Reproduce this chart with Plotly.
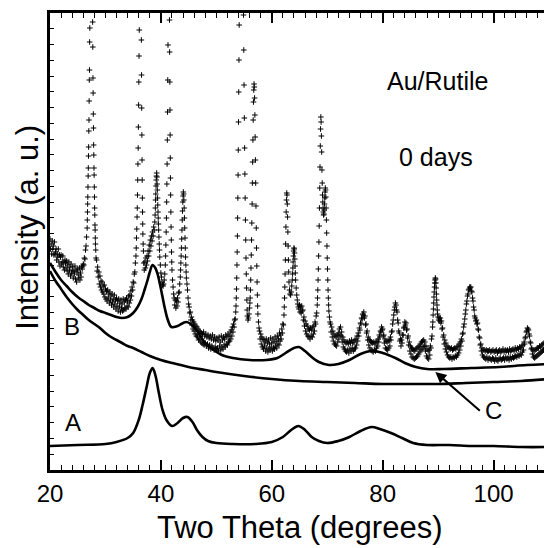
import plotly.graph_objects as go

# XRD scan of Au/Rutile (0 days); intensity in arbitrary units, axis spans 0..457
scan_20_28 = [
    (20.0, 231), (20.1, 221), (20.2, 226), (20.3, 216), (20.4, 229), (20.5, 221), (20.6, 224), (20.7, 215),
    (20.8, 228), (20.9, 216), (21.0, 218), (21.1, 221), (21.2, 210), (21.3, 216), (21.4, 213), (21.5, 221),
    (21.6, 208), (21.7, 215), (21.8, 204), (21.9, 213), (22.0, 215), (22.1, 206), (22.2, 208), (22.3, 214),
    (22.4, 203), (22.5, 208), (22.6, 200), (22.7, 210), (22.8, 207), (22.9, 202), (23.0, 209), (23.1, 199),
    (23.2, 205), (23.3, 196), (23.4, 208), (23.5, 200), (23.6, 203), (23.7, 194), (23.8, 206), (23.9, 197),
    (24.0, 199), (24.1, 203), (24.2, 192), (24.3, 199), (24.4, 196), (24.5, 204), (24.6, 191), (24.7, 200),
    (24.8, 188), (24.9, 198), (25.0, 201), (25.1, 192), (25.2, 195), (25.3, 202), (25.4, 190), (25.5, 197),
    (25.6, 193), (25.7, 203), (25.8, 201), (25.9, 204), (26.0, 206), (26.1, 205), (26.2, 212), (26.3, 211),
    (26.4, 220), (26.5, 224), (26.6, 233), (26.7, 242), (26.73, 250), (26.76, 258), (26.79, 266), (26.82, 273),
    (26.85, 283), (26.88, 294), (26.91, 302), (26.94, 314), (26.97, 323), (27.0, 339), (27.03, 350),
    (27.06, 369), (27.09, 390), (27.12, 400), (27.15, 428), (27.18, 442), (27.21, 470), (27.24, 510),
    (27.3, 560), (27.4, 600), (27.5, 590), (27.6, 540), (27.66, 490), (27.69, 448), (27.72, 423), (27.75, 392),
    (27.78, 377), (27.81, 356), (27.84, 342), (27.87, 325), (27.9, 315), (27.93, 302), (27.96, 295),
    (27.99, 283), (28.02, 273), (28.05, 262), (28.08, 255), (28.11, 245), (28.14, 240), (28.17, 232),
    (28.2, 226), (28.25, 220), (28.3, 212),
]

scan_28_45 = [
    (28.4, 210), (28.5, 199), (28.6, 203), (28.7, 193), (28.8, 198), (28.9, 186), (29.0, 194), (29.1, 183),
    (29.2, 189), (29.3, 180), (29.4, 188), (29.5, 178), (29.6, 184), (29.7, 176), (29.8, 185), (29.9, 173),
    (30.0, 181), (30.1, 171), (30.2, 179), (30.3, 169), (30.4, 180), (30.5, 172), (30.6, 176), (30.7, 167),
    (30.8, 178), (30.9, 170), (31.0, 174), (31.1, 165), (31.2, 176), (31.3, 168), (31.4, 171), (31.5, 163),
    (31.6, 175), (31.7, 166), (31.8, 170), (31.9, 161), (32.0, 172), (32.1, 164), (32.2, 169), (32.3, 159),
    (32.4, 171), (32.5, 163), (32.6, 167), (32.7, 158), (32.8, 170), (32.9, 162), (33.0, 166), (33.1, 159),
    (33.2, 171), (33.3, 160), (33.4, 168), (33.5, 162), (33.6, 170), (33.7, 161), (33.8, 172), (33.9, 164),
    (34.0, 169), (34.1, 163), (34.2, 174), (34.3, 167), (34.4, 175), (34.5, 170), (34.6, 179), (34.7, 174),
    (34.8, 183), (34.9, 180), (35.0, 188), (35.1, 187), (35.2, 196), (35.3, 198), (35.4, 207), (35.5, 214),
    (35.55, 222), (35.6, 232), (35.65, 241), (35.7, 253), (35.74, 262), (35.78, 275), (35.82, 290),
    (35.86, 306), (35.9, 322), (35.94, 343), (35.98, 365), (36.02, 388), (36.06, 414), (36.1, 440),
    (36.14, 470), (36.2, 520), (36.3, 560), (36.4, 520), (36.45, 470), (36.48, 430), (36.51, 395),
    (36.54, 362), (36.57, 335), (36.6, 310), (36.63, 290), (36.66, 272), (36.69, 258), (36.72, 246),
    (36.75, 236), (36.8, 226), (36.85, 219), (36.9, 207), (37.0, 200), (37.1, 208), (37.2, 202), (37.3, 212),
    (37.4, 205), (37.5, 214), (37.6, 209), (37.7, 219), (37.8, 214), (37.9, 225), (38.0, 219), (38.1, 230),
    (38.2, 224), (38.3, 234), (38.4, 229), (38.5, 238), (38.6, 234), (38.7, 243), (38.8, 240), (38.9, 248),
    (38.95, 255), (39.0, 262), (39.04, 270), (39.08, 276), (39.12, 284), (39.16, 290), (39.2, 294),
    (39.24, 297), (39.28, 293), (39.32, 286), (39.36, 280), (39.4, 272), (39.44, 265), (39.48, 258),
    (39.52, 252), (39.56, 246), (39.6, 240), (39.65, 233), (39.7, 226), (39.75, 220), (39.8, 213),
    (39.9, 205), (40.0, 197), (40.1, 193), (40.2, 188), (40.3, 185), (40.4, 184), (40.5, 186), (40.6, 190),
    (40.7, 196), (40.8, 205), (40.85, 214), (40.9, 225), (40.95, 238), (41.0, 252), (41.04, 268),
    (41.08, 286), (41.12, 306), (41.16, 330), (41.2, 358), (41.24, 390), (41.28, 425), (41.32, 465),
    (41.4, 520), (41.5, 490), (41.55, 450), (41.58, 418), (41.61, 388), (41.64, 360), (41.67, 335),
    (41.7, 312), (41.73, 292), (41.76, 275), (41.8, 258), (41.84, 243), (41.88, 230), (41.92, 218),
    (41.96, 208), (42.0, 200), (42.1, 190), (42.2, 183), (42.3, 176), (42.4, 172), (42.5, 165), (42.6, 170),
    (42.7, 162), (42.8, 169), (42.9, 164), (43.0, 172), (43.1, 168), (43.2, 177), (43.3, 178), (43.4, 186),
    (43.5, 193), (43.55, 200), (43.6, 207), (43.65, 214), (43.7, 222), (43.75, 231), (43.8, 240),
    (43.85, 250), (43.9, 259), (43.95, 268), (44.0, 274), (44.05, 278), (44.1, 276), (44.15, 270),
    (44.2, 262), (44.25, 252), (44.3, 242), (44.35, 232), (44.4, 222), (44.45, 213), (44.5, 205),
    (44.55, 198), (44.6, 192), (44.7, 186), (44.8, 180), (44.9, 172),
]

scan_45_58 = [
    (45.0, 166), (45.1, 163), (45.2, 157), (45.3, 158), (45.4, 150), (45.5, 153), (45.6, 145), (45.7, 150),
    (45.8, 141), (45.9, 148), (46.0, 139), (46.1, 146), (46.2, 136), (46.3, 144), (46.4, 134), (46.5, 143),
    (46.6, 133), (46.7, 141), (46.8, 130), (46.9, 139), (47.0, 131), (47.1, 138), (47.2, 128), (47.3, 137),
    (47.4, 127), (47.5, 136), (47.6, 126), (47.7, 138), (47.8, 125), (47.9, 134), (48.0, 127), (48.1, 136),
    (48.2, 124), (48.3, 133), (48.4, 126), (48.5, 135), (48.6, 122), (48.7, 132), (48.8, 125), (48.9, 134),
    (49.0, 121), (49.1, 131), (49.2, 124), (49.3, 135), (49.4, 122), (49.5, 130), (49.6, 120), (49.7, 133),
    (49.8, 123), (49.9, 129), (50.0, 121), (50.1, 132), (50.2, 122), (50.3, 130), (50.4, 119), (50.5, 133),
    (50.6, 124), (50.7, 128), (50.8, 120), (50.9, 134), (51.0, 123), (51.1, 130), (51.2, 121), (51.3, 133),
    (51.4, 125), (51.5, 131), (51.6, 123), (51.7, 135), (51.8, 126), (51.9, 133), (52.0, 125), (52.1, 136),
    (52.2, 128), (52.3, 134), (52.4, 129), (52.5, 138), (52.6, 131), (52.7, 140), (52.8, 134), (52.9, 143),
    (53.0, 138), (53.1, 146), (53.2, 143), (53.3, 150), (53.4, 151), (53.5, 158), (53.55, 164), (53.6, 172),
    (53.64, 181), (53.68, 192), (53.72, 205), (53.76, 218), (53.8, 234), (53.84, 252), (53.88, 272),
    (53.92, 295), (53.96, 320), (54.0, 348), (54.04, 378), (54.08, 410), (54.12, 445), (54.2, 500),
    (54.4, 560), (54.6, 540), (54.8, 490), (54.9, 455), (54.95, 420), (55.0, 385), (55.05, 352),
    (55.1, 322), (55.15, 296), (55.2, 272), (55.25, 250), (55.3, 230), (55.35, 212), (55.4, 196),
    (55.45, 182), (55.5, 170), (55.55, 160), (55.6, 154), (55.7, 150), (55.8, 152), (55.9, 156), (56.0, 162),
    (56.05, 167), (56.1, 172), (56.15, 180), (56.2, 190), (56.25, 202), (56.3, 215), (56.35, 230),
    (56.4, 247), (56.45, 266), (56.5, 287), (56.55, 308), (56.6, 330), (56.65, 350), (56.7, 368),
    (56.75, 380), (56.8, 386), (56.85, 383), (56.9, 372), (56.95, 355), (57.0, 333), (57.05, 310),
    (57.1, 287), (57.15, 264), (57.2, 242), (57.25, 222), (57.3, 204), (57.35, 188), (57.4, 175),
    (57.45, 164), (57.5, 156), (57.6, 148), (57.7, 142),
]

scan_58_71 = [
    (57.8, 139), (57.9, 131), (58.0, 136), (58.1, 126), (58.2, 133), (58.3, 123), (58.4, 131), (58.5, 121),
    (58.6, 130), (58.7, 124), (58.8, 128), (58.9, 119), (59.0, 131), (59.1, 122), (59.2, 127), (59.3, 118),
    (59.4, 130), (59.5, 121), (59.6, 126), (59.7, 120), (59.8, 132), (59.9, 123), (60.0, 127), (60.1, 119),
    (60.2, 131), (60.3, 122), (60.4, 128), (60.5, 121), (60.6, 133), (60.7, 124), (60.8, 129), (60.9, 122),
    (61.0, 134), (61.1, 126), (61.2, 131), (61.3, 125), (61.4, 137), (61.5, 129), (61.6, 135), (61.7, 131),
    (61.8, 141), (61.9, 137), (62.0, 146), (62.1, 145), (62.2, 155), (62.25, 163), (62.3, 172), (62.35, 183),
    (62.4, 196), (62.45, 210), (62.5, 226), (62.55, 243), (62.6, 258), (62.65, 270), (62.7, 277),
    (62.75, 275), (62.8, 266), (62.85, 253), (62.9, 238), (62.95, 224), (63.0, 210), (63.05, 198),
    (63.1, 188), (63.2, 180), (63.3, 176), (63.4, 175), (63.5, 178), (63.6, 184), (63.7, 190), (63.75, 196),
    (63.8, 202), (63.85, 208), (63.9, 214), (63.95, 219), (64.0, 222), (64.05, 221), (64.1, 217),
    (64.15, 211), (64.2, 204), (64.25, 197), (64.3, 190), (64.4, 182), (64.5, 175), (64.6, 170), (64.7, 166),
    (64.8, 163), (64.9, 161), (65.0, 165), (65.1, 158), (65.2, 163), (65.3, 157), (65.4, 164), (65.5, 159),
    (65.6, 160), (65.7, 150), (65.8, 153), (65.9, 144), (66.0, 149), (66.1, 139), (66.2, 146), (66.3, 136),
    (66.4, 144), (66.5, 134), (66.6, 141), (66.7, 133), (66.8, 140), (66.9, 131), (67.0, 142), (67.1, 134),
    (67.2, 140), (67.3, 133), (67.4, 143), (67.5, 136), (67.6, 144), (67.7, 139), (67.8, 148), (67.9, 146),
    (68.0, 154), (68.1, 157), (68.2, 165), (68.25, 172), (68.3, 180), (68.35, 190), (68.4, 201), (68.45, 214),
    (68.5, 228), (68.55, 244), (68.6, 262), (68.65, 282), (68.7, 303), (68.75, 324), (68.8, 341),
    (68.85, 353), (68.9, 348), (68.95, 334), (69.0, 318), (69.05, 300), (69.1, 287), (69.15, 275),
    (69.2, 268), (69.25, 262), (69.3, 258), (69.35, 255), (69.4, 256), (69.45, 260), (69.5, 266),
    (69.55, 272), (69.6, 278), (69.65, 282), (69.7, 280), (69.75, 273), (69.8, 262), (69.85, 250),
    (69.9, 237), (69.95, 224), (70.0, 212), (70.05, 201), (70.1, 190), (70.15, 180), (70.2, 172),
    (70.25, 165), (70.3, 159), (70.4, 153), (70.5, 148),
]

scan_71_89 = [
    (70.6, 146), (70.7, 138), (70.8, 143), (70.9, 133), (71.0, 139), (71.1, 129), (71.2, 136), (71.3, 126),
    (71.4, 134), (71.5, 125), (71.6, 133), (71.7, 124), (71.8, 135), (71.9, 128), (72.0, 137), (72.1, 131),
    (72.2, 141), (72.3, 135), (72.4, 143), (72.5, 134), (72.6, 138), (72.7, 128), (72.8, 133), (72.9, 123),
    (73.0, 130), (73.1, 121), (73.2, 128), (73.3, 119), (73.4, 127), (73.5, 118), (73.6, 128), (73.7, 120),
    (73.8, 126), (73.9, 117), (74.0, 129), (74.1, 121), (74.2, 127), (74.3, 119), (74.4, 130), (74.5, 122),
    (74.6, 127), (74.7, 119), (74.8, 128), (74.9, 121), (75.0, 130), (75.1, 122), (75.2, 131), (75.3, 125),
    (75.4, 134), (75.5, 129), (75.6, 137), (75.7, 134), (75.8, 142), (75.9, 140), (76.0, 147), (76.1, 146),
    (76.2, 152), (76.3, 151), (76.4, 156), (76.5, 155), (76.6, 158), (76.7, 152), (76.8, 154), (76.9, 145),
    (77.0, 146), (77.1, 137), (77.2, 139), (77.3, 130), (77.4, 133), (77.5, 125), (77.6, 130), (77.7, 122),
    (77.8, 129), (77.9, 120), (78.0, 128), (78.1, 119), (78.2, 127), (78.3, 118), (78.4, 128), (78.5, 120),
    (78.6, 126), (78.7, 119), (78.8, 128), (78.9, 122), (79.0, 129), (79.1, 124), (79.2, 131), (79.3, 128),
    (79.4, 135), (79.5, 133), (79.6, 139), (79.7, 138), (79.8, 143), (79.9, 140), (80.0, 141), (80.1, 134),
    (80.2, 135), (80.3, 127), (80.4, 131), (80.5, 122), (80.6, 129), (80.7, 121), (80.8, 128), (80.9, 120),
    (81.0, 129), (81.1, 122), (81.2, 130), (81.3, 124), (81.4, 133), (81.5, 130), (81.6, 138), (81.7, 139),
    (81.8, 146), (81.9, 150), (82.0, 155), (82.1, 160), (82.2, 163), (82.3, 167), (82.4, 165), (82.5, 160),
    (82.6, 158), (82.7, 150), (82.8, 147), (82.9, 139), (83.0, 137), (83.1, 129), (83.2, 131), (83.3, 124),
    (83.4, 130), (83.5, 127), (83.6, 135), (83.7, 135), (83.8, 142), (83.9, 143), (84.0, 148), (84.1, 145),
    (84.2, 147), (84.3, 140), (84.4, 141), (84.5, 132), (84.6, 134), (84.7, 125), (84.8, 128), (84.9, 119),
    (85.0, 124), (85.1, 116), (85.2, 122), (85.3, 113), (85.4, 121), (85.5, 112), (85.6, 120), (85.7, 111),
    (85.8, 119), (85.9, 112), (86.0, 121), (86.1, 113), (86.2, 122), (86.3, 114), (86.4, 123), (86.5, 116),
    (86.6, 124), (86.7, 118), (86.8, 126), (86.9, 120), (87.0, 128), (87.1, 121), (87.2, 129), (87.3, 123),
    (87.4, 130), (87.5, 124), (87.6, 128), (87.7, 119), (87.8, 124), (87.9, 114), (88.0, 121), (88.1, 112),
    (88.2, 119), (88.3, 111), (88.4, 120), (88.5, 115), (88.6, 124), (88.7, 122), (88.8, 131), (88.9, 134),
    (89.0, 143),
]

scan_89_110 = [
    (89.05, 148), (89.1, 155), (89.15, 161), (89.2, 167), (89.25, 173), (89.3, 178), (89.35, 183),
    (89.4, 187), (89.45, 190), (89.5, 192), (89.55, 191), (89.6, 187), (89.65, 182), (89.7, 176),
    (89.75, 170), (89.8, 165), (89.85, 160), (89.9, 156), (90.0, 153), (90.1, 150), (90.2, 152), (90.3, 149),
    (90.4, 152), (90.5, 147), (90.6, 149), (90.7, 141), (90.8, 142), (90.9, 133), (91.0, 135), (91.1, 126),
    (91.2, 130), (91.3, 121), (91.4, 127), (91.5, 118), (91.6, 124), (91.7, 115), (91.8, 123), (91.9, 113),
    (92.0, 122), (92.1, 112), (92.2, 121), (92.3, 113), (92.4, 122), (92.5, 111), (92.6, 120), (92.7, 113),
    (92.8, 121), (92.9, 112), (93.0, 122), (93.1, 114), (93.2, 121), (93.3, 113), (93.4, 123), (93.5, 115),
    (93.6, 124), (93.7, 117), (93.8, 126), (93.9, 120), (94.0, 128), (94.1, 124), (94.2, 131), (94.3, 129),
    (94.4, 136), (94.5, 137), (94.6, 143), (94.7, 146), (94.8, 151), (94.9, 156), (95.0, 160), (95.1, 166),
    (95.2, 169), (95.3, 174), (95.4, 176), (95.5, 180), (95.6, 181), (95.7, 183), (95.8, 182), (95.9, 183),
    (96.0, 179), (96.1, 178), (96.2, 172), (96.3, 169), (96.4, 163), (96.5, 160), (96.6, 154), (96.7, 152),
    (96.8, 149), (96.9, 150), (97.0, 146), (97.1, 147), (97.2, 141), (97.3, 140), (97.4, 133), (97.5, 132),
    (97.6, 125), (97.7, 126), (97.8, 119), (97.9, 122), (98.0, 115), (98.1, 120), (98.2, 113), (98.3, 120),
    (98.4, 112), (98.5, 119), (98.6, 111), (98.7, 120), (98.8, 113), (98.9, 119), (99.0, 110), (99.1, 119),
    (99.2, 112), (99.3, 120), (99.4, 111), (99.5, 118), (99.6, 110), (99.7, 119), (99.8, 112), (99.9, 120),
    (100.0, 111), (100.1, 118), (100.2, 109), (100.3, 119), (100.4, 112), (100.5, 120), (100.6, 110),
    (100.7, 117), (100.8, 109), (100.9, 119), (101.0, 111), (101.1, 120), (101.2, 112), (101.3, 118),
    (101.4, 110), (101.5, 119), (101.6, 111), (101.7, 121), (101.8, 112), (101.9, 118), (102.0, 110),
    (102.1, 120), (102.2, 113), (102.3, 119), (102.4, 111), (102.5, 120), (102.6, 112), (102.7, 118),
    (102.8, 110), (102.9, 121), (103.0, 113), (103.1, 119), (103.2, 111), (103.3, 120), (103.4, 113),
    (103.5, 121), (103.6, 112), (103.7, 119), (103.8, 113), (103.9, 122), (104.0, 114), (104.1, 120),
    (104.2, 113), (104.3, 122), (104.4, 115), (104.5, 121), (104.6, 114), (104.7, 123), (104.8, 116),
    (104.9, 122), (105.0, 115), (105.1, 124), (105.2, 118), (105.3, 125), (105.4, 120), (105.5, 128),
    (105.6, 126), (105.7, 132), (105.8, 133), (105.9, 138), (106.0, 139), (106.1, 142), (106.2, 141),
    (106.3, 140), (106.4, 136), (106.5, 134), (106.6, 128), (106.7, 127), (106.8, 121), (106.9, 122),
    (107.0, 116), (107.1, 120), (107.2, 113), (107.3, 119), (107.4, 112), (107.5, 120), (107.6, 113),
    (107.7, 121), (107.8, 114), (107.9, 122), (108.0, 115), (108.1, 122), (108.2, 116), (108.3, 124),
    (108.4, 117), (108.5, 123), (108.6, 118), (108.7, 125), (108.8, 119), (108.9, 126), (109.0, 120),
    (109.1, 127), (109.2, 121), (109.3, 126), (109.4, 122), (109.5, 128), (109.6, 123), (109.7, 128),
    (109.8, 124), (109.9, 129), (110.0, 125),
]

# curve A: Au contribution
au_x = [20, 25, 30, 32, 34, 35, 36, 36.7, 37.5, 38.0, 38.5, 39.0, 39.6, 40.3, 41, 42, 43, 44, 44.8,
        45.7, 46.5, 47.5, 48.5, 50, 53, 57, 60, 62, 63.5, 64.8, 66, 67.2, 68.5, 70, 72, 74, 76, 78,
        79.5, 81.5, 83.5, 85.5, 88, 92, 96, 100, 105, 110]
au_y = [24, 25, 26, 28, 32, 37, 50, 65, 85, 97, 102, 95, 78, 60, 50, 44, 47, 52, 53,
        48, 40, 33, 29, 27, 26, 26, 28, 33, 40, 44, 40, 33, 29, 27, 29, 33, 39, 43,
        41, 37, 32, 27, 25, 25, 24, 24, 23, 23]

# curve B: total fit
fit_x = [20, 21, 22, 23, 24, 25, 26, 27, 28, 29, 30, 31, 32, 33, 34, 35, 35.8, 36.5, 37.1, 37.6,
         38.0, 38.5, 39.0, 39.4, 39.9, 40.3, 40.7, 41.2, 41.9, 43, 44.6, 46, 47, 48, 49.3, 51, 53,
         56, 59, 61, 62.5, 64, 64.9, 66, 67.2, 68.5, 70.3, 72, 74, 76, 78, 80, 82.3, 84, 86, 88,
         91, 96, 101, 106, 110]
fit_y = [207, 198, 190, 184, 178, 173, 169, 165, 162, 159, 157, 155, 153, 152, 153, 157, 163, 171, 181, 190,
         198, 205, 202, 196, 184, 173, 162, 151, 143, 144, 148, 143, 135, 127, 121, 115, 112,
         110, 110, 112, 117, 122, 123, 119, 113, 108, 105, 106, 110, 116, 119, 117, 112, 107, 103, 101,
         101, 102, 103, 105, 106]

# curve C: background
bkg_x = [20, 21, 22, 23, 24, 25, 26, 27, 28, 29, 30, 31, 32, 33, 34, 35, 36.5, 38, 40, 42, 45, 48,
         50, 55, 60, 65, 70, 75, 80, 85, 90, 95, 100, 105, 110]
bkg_y = [199, 189, 181, 173, 166, 160, 155, 150, 146, 142, 137, 133, 130, 127, 124, 122, 118, 114, 110, 107, 103, 100,
         98, 94, 91, 89, 88, 87, 86, 86, 86, 87, 88, 89, 91]

scan = scan_20_28 + scan_28_45 + scan_45_58 + scan_58_71 + scan_71_89 + scan_89_110
two_theta = [p[0] for p in scan]
intensity = [p[1] for p in scan]

FONT = "Liberation Sans, Arial, sans-serif"

fig = go.Figure()
fig.add_trace(go.Scatter(
    x=two_theta, y=intensity, mode="markers",
    marker=dict(symbol="cross-thin", size=4, color="black",
                line=dict(width=1, color="black")),
))
for xs, ys in [(fit_x, fit_y), (bkg_x, bkg_y), (au_x, au_y)]:
    fig.add_trace(go.Scatter(
        x=xs, y=ys, mode="lines",
        line=dict(color="black", width=2.6, shape="spline", smoothing=1.0),
    ))

fig.update_xaxes(
    range=[20, 110], tick0=20, dtick=20,
    ticks="inside", ticklen=10, tickwidth=1.5, tickcolor="black",
    minor=dict(dtick=2, ticks="inside", ticklen=5, tickwidth=1, tickcolor="black"),
    showline=True, linewidth=2.5, linecolor="black", mirror="allticks",
    showgrid=False, zeroline=False,
    tickfont=dict(size=24, family=FONT, color="black"),
)
fig.update_yaxes(
    range=[0, 457], tick0=0, dtick=457 / 29,
    ticks="inside", ticklen=4, tickwidth=1, tickcolor="black",
    showticklabels=False,
    showline=True, linewidth=2.5, linecolor="black", mirror="allticks",
    showgrid=False, zeroline=False,
)

label_font = dict(family=FONT, size=24, color="black")
fig.add_annotation(x=0.5, y=-0.125, xref="paper", yref="paper", text="Two Theta (degrees)",
                   showarrow=False, font=dict(family=FONT, size=31, color="black"),
                   xanchor="center", yanchor="middle")
fig.add_annotation(x=-0.044, y=0.53, xref="paper", yref="paper", text="Intensity (a. u.)",
                   textangle=-90, showarrow=False, font=dict(family=FONT, size=31, color="black"),
                   xanchor="center", yanchor="middle")
fig.add_annotation(x=89.8, y=389, text="Au/Rutile", showarrow=False,
                   font=dict(family=FONT, size=25, color="black"))
fig.add_annotation(x=89.7, y=313, text="0 days", showarrow=False,
                   font=dict(family=FONT, size=25, color="black"))
fig.add_annotation(x=24.0, y=144, text="B", showarrow=False, font=label_font)
fig.add_annotation(x=24.1, y=48, text="A", showarrow=False, font=label_font)
fig.add_annotation(x=99.9, y=60, text="C", showarrow=False, font=label_font)
fig.add_annotation(x=89.5, y=98, ax=46, ay=40, axref="pixel", ayref="pixel", text="",
                   showarrow=True, arrowhead=2, arrowsize=1.1, arrowwidth=2, arrowcolor="black")

# page body adds an 8px offset, so the figure is 8px smaller than the window
fig.update_layout(
    width=544, height=540,
    margin=dict(l=42, r=0, t=5, b=78),
    plot_bgcolor="white", paper_bgcolor="white",
    showlegend=False,
    font=dict(family=FONT, color="black"),
)

fig.write_html("out.html")
